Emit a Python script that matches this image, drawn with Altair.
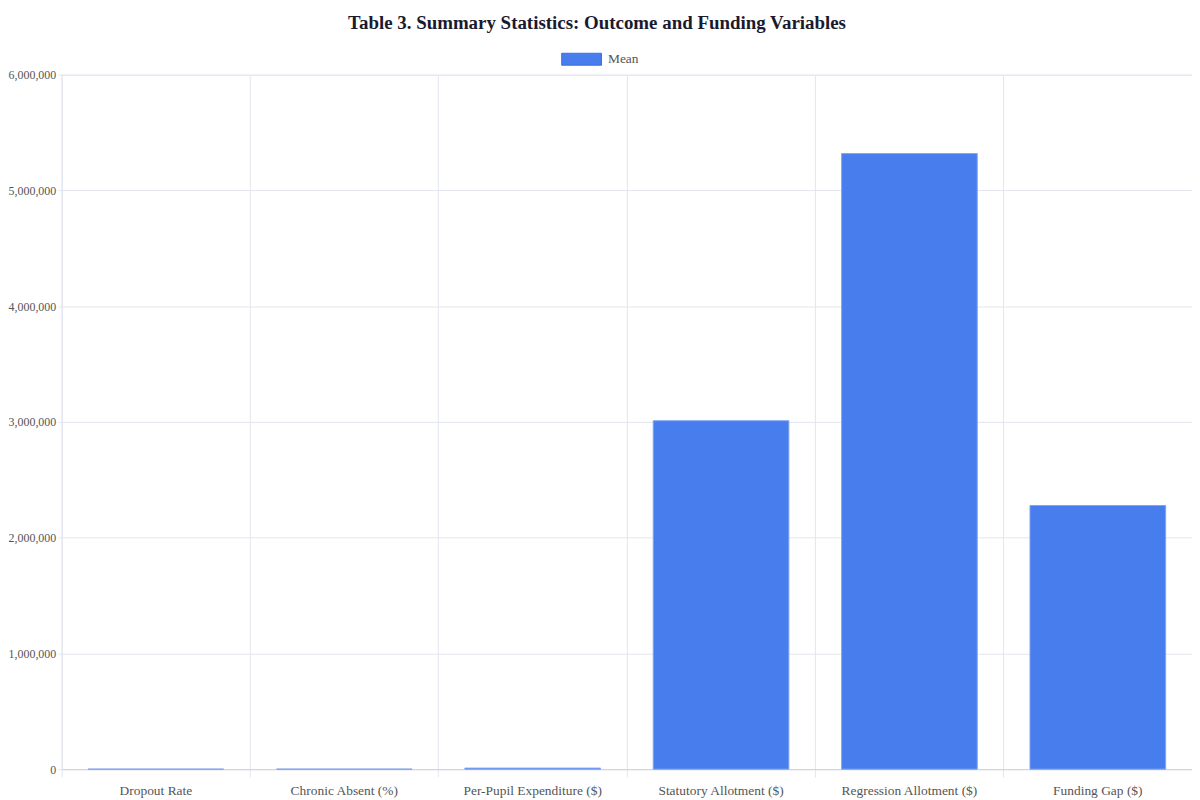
import altair as alt
import pandas as pd

categories = ["Dropout Rate", "Chronic Absent (%)", "Per-Pupil Expenditure ($)",
              "Statutory Allotment ($)", "Regression Allotment ($)", "Funding Gap ($)"]
means = [2.5, 15.0, 9000, 3010000, 5318000, 2278000]
series = ["Mean"] * len(categories)
y_ticks = [0, 1000000, 2000000, 3000000, 4000000, 5000000, 6000000]

df = pd.DataFrame({"variable": categories, "value": means, "series": series})

FONT = "Liberation Serif"
GRID = "#e3e6ee"
LABEL = "#555555"

bars = alt.Chart(df).mark_bar(
    width=alt.RelativeBandSize(0.72),
    stroke="#7fa2f2", strokeWidth=1, opacity=1
).encode(
    x=alt.X("variable:N", sort=categories, title=None,
            scale=alt.Scale(paddingInner=0, paddingOuter=0),
            axis=alt.Axis(labelAngle=0, bandPosition=0, grid=True, gridColor=GRID,
                          tickColor=GRID, tickSize=8, domainColor="#cfd3dc",
                          labelFont=FONT, labelFontSize=13.5, labelColor=LABEL,
                          labelPadding=6)),
    y=alt.Y("value:Q", title=None,
            scale=alt.Scale(domain=[0, 6000000], nice=False),
            axis=alt.Axis(values=y_ticks, format=",d", gridColor=GRID, tickColor=GRID,
                          tickSize=4, domainColor=GRID, labelFont=FONT, labelFontSize=12,
                          labelColor=LABEL, labelPadding=2)),
    color=alt.Color("series:N", scale=alt.Scale(range=["#477DED"]),
                    legend=alt.Legend(title=None, orient="none", legendX=502, legendY=-36,
                                      symbolType="M-1,-0.3H1V0.3H-1Z", symbolSize=1600,
                                      symbolStrokeColor="#3a6fe0", symbolStrokeWidth=1,
                                      symbolOpacity=1,
                                      labelFont=FONT, labelFontSize=13.5, labelColor=LABEL,
                                      labelOffset=6)),
)

chart = bars.properties(
    width=1136, height=698,
    autosize=alt.AutoSizeParams(type="none"),
    padding={"left": 54, "top": 65, "right": 0, "bottom": 27},
    title=alt.TitleParams("Table 3. Summary Statistics: Outcome and Funding Variables",
                          font=FONT, fontSize=19, fontWeight="bold", color="#1a1a2e",
                          anchor="middle", dx=-30, offset=6),
).configure_view(stroke=GRID)

chart.save("out.html", embed_options={"renderer": "svg", "actions": False})
